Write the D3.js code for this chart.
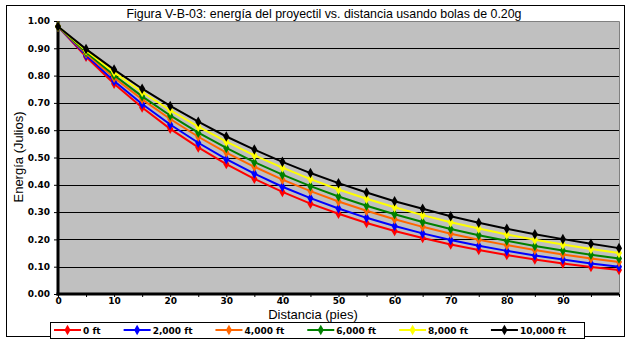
<!DOCTYPE html>
<html><head><meta charset="utf-8">
<script src="https://cdn.jsdelivr.net/npm/d3@7"></script>
<style>body{margin:0;background:#fff}svg{display:block}</style>
</head><body><svg id="c" width="632" height="342"></svg>
<script>
const distances = [0,5,10,15,20,25,30,35,40,45,50,55,60,65,70,75,80,85,90,95,100];
const seriesNames = ["0 ft","2,000 ft","4,000 ft","6,000 ft","8,000 ft","10,000 ft"];
const seriesColors = ["#FF0000","#0000FF","#FF6600","#008000","#FFFF00","#000000"];
const e0ft     = [0.980,0.869,0.770,0.683,0.605,0.537,0.476,0.422,0.374,0.331,0.294,0.260,0.231,0.205,0.181,0.161,0.143,0.126,0.112,0.099,0.088];
const e2000ft  = [0.980,0.874,0.780,0.696,0.621,0.554,0.494,0.441,0.393,0.351,0.313,0.279,0.249,0.222,0.198,0.177,0.158,0.141,0.126,0.112,0.100];
const e4000ft  = [0.980,0.881,0.792,0.713,0.641,0.576,0.518,0.466,0.419,0.377,0.339,0.305,0.274,0.246,0.221,0.199,0.179,0.161,0.145,0.130,0.117];
const e6000ft  = [0.980,0.886,0.801,0.724,0.654,0.591,0.535,0.483,0.437,0.395,0.357,0.323,0.292,0.264,0.238,0.215,0.195,0.176,0.159,0.144,0.130];
const e8000ft  = [0.980,0.892,0.812,0.740,0.673,0.613,0.558,0.508,0.463,0.421,0.383,0.349,0.318,0.289,0.263,0.240,0.218,0.199,0.181,0.165,0.150];
const e10000ft = [0.980,0.897,0.822,0.752,0.689,0.631,0.577,0.529,0.484,0.443,0.406,0.372,0.340,0.312,0.285,0.261,0.239,0.219,0.201,0.184,0.168];
const seriesValues = [e0ft,e2000ft,e4000ft,e6000ft,e8000ft,e10000ft];
const yTicks = [0,0.1,0.2,0.3,0.4,0.5,0.6,0.7,0.8,0.9,1.0];
const xTickLabels = [0,10,20,30,40,50,60,70,80,90];
const titleText = "Figura V-B-03: energía del proyectil vs. distancia usando bolas de 0.20g";
const xTitle = "Distancia (pies)";
const yTitle = "Energía (Julios)";

const svg = d3.select("#c");
const L = 58, R = 619, T = 21, B = 294;
const x = d3.scaleLinear().domain([0,100]).range([L,R]);
const y = d3.scaleLinear().domain([0,1]).range([B,T]);

// outer border
svg.append("rect").attr("x",6.5).attr("y",5.5).attr("width",618).attr("height",331)
  .attr("fill","#fff").attr("stroke","#000").attr("stroke-width",1);

// title
svg.append("text").attr("x",324).attr("y",18).attr("text-anchor","middle")
  .attr("font-family","'Liberation Sans', Arial, sans-serif").attr("font-size",13)
  .attr("textLength",395).attr("lengthAdjust","spacingAndGlyphs")
  .text(titleText);

// plot area
svg.append("rect").attr("x",L).attr("y",T).attr("width",R-L).attr("height",B-T).attr("fill","#C0C0C0");
svg.append("path").attr("d",`M${L},${T+0.5}H${R+0.5}V${B}`).attr("fill","none").attr("stroke","#808080");

// gridlines
svg.append("g").selectAll("line").data(yTicks.filter(v=>v>0 && v<1)).join("line")
  .attr("x1",L).attr("x2",R).attr("y1",d=>Math.round(y(d))+0.5).attr("y2",d=>Math.round(y(d))+0.5)
  .attr("stroke","#000").attr("stroke-width",1);

// y axis
const yAxis = d3.axisLeft(y).tickValues(yTicks).tickFormat(d3.format(".2f")).tickSize(4).tickPadding(4);
const gy = svg.append("g").attr("transform",`translate(${L},0)`).call(yAxis);
gy.select(".domain").remove();
gy.selectAll(".tick line").attr("stroke","#000");
gy.selectAll(".tick text").attr("font-family","'DejaVu Sans', sans-serif").attr("font-weight","bold").attr("font-size",9).attr("fill","#000");

// x axis
const xAxis = d3.axisBottom(x).tickValues(distances).tickSize(3).tickPadding(1)
  .tickFormat(d => xTickLabels.includes(d) ? d : "");
const gx = svg.append("g").attr("transform",`translate(0,${B})`).call(xAxis);
gx.select(".domain").remove();
gx.selectAll(".tick line").attr("stroke","#000");
gx.selectAll(".tick text").attr("font-family","'DejaVu Sans', sans-serif").attr("font-weight","bold").attr("font-size",9).attr("fill","#000");

// thick axis lines
svg.append("line").attr("x1",L).attr("x2",L).attr("y1",T).attr("y2",B+1.5).attr("stroke","#000").attr("stroke-width",3);
svg.append("line").attr("x1",L-1.5).attr("x2",R).attr("y1",B).attr("y2",B).attr("stroke","#000").attr("stroke-width",3);

// series
const line = d3.line().x((d,i)=>x(distances[i])).y(d=>y(d));
const diamond = d3.symbol().type(d3.symbolDiamond).size(32);
seriesValues.forEach((vals,si)=>{
  const g = svg.append("g");
  g.append("path").datum(vals).attr("d",line).attr("fill","none")
    .attr("stroke",seriesColors[si]).attr("stroke-width",2);
  g.selectAll("path.m").data(vals).join("path").attr("class","m")
    .attr("transform",(d,i)=>`translate(${x(distances[i])},${y(d)})`)
    .attr("d",diamond).attr("fill",seriesColors[si]);
});

// axis titles
svg.append("text").attr("x",313).attr("y",319).attr("text-anchor","middle")
  .attr("font-family","'Liberation Sans', Arial, sans-serif").attr("font-size",13).text(xTitle);
svg.append("text").attr("transform","translate(23,157) rotate(-90)").attr("text-anchor","middle")
  .attr("font-family","'Liberation Sans', Arial, sans-serif").attr("font-size",13).text(yTitle);

// legend
svg.append("rect").attr("x",50.5).attr("y",322.5).attr("width",534).attr("height",16)
  .attr("fill","#fff").attr("stroke","#000");
const lg = svg.append("g").selectAll("g").data(seriesNames).join("g");
lg.append("line").attr("x1",0).attr("x2",27).attr("stroke",(d,i)=>seriesColors[i]).attr("stroke-width",2);
lg.append("path").attr("transform","translate(13.5,0)").attr("d",diamond).attr("fill",(d,i)=>seriesColors[i]);
lg.append("text").attr("x",29).attr("y",3.5)
  .attr("font-family","'DejaVu Sans', sans-serif").attr("font-weight","bold").attr("font-size",9).text(d=>d);
let cx = 54;
lg.each(function(){
  const g = d3.select(this);
  g.attr("transform",`translate(${cx},330)`);
  const w = g.select("text").node().getComputedTextLength();
  cx += 29 + w + 23;
});
</script></body></html>
